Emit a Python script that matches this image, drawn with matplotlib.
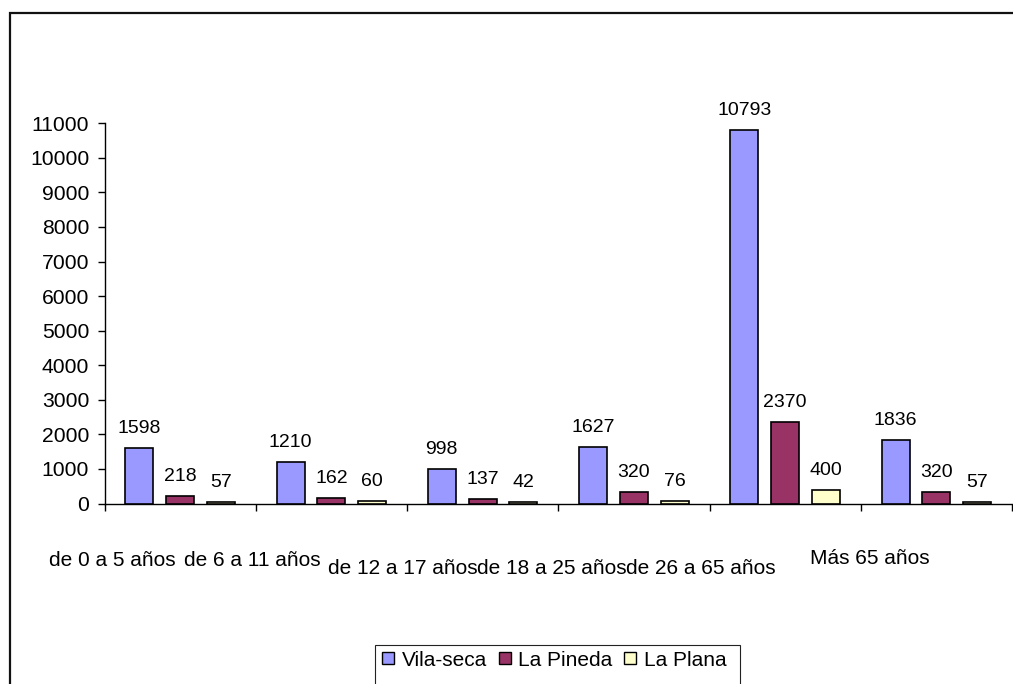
import matplotlib
matplotlib.use("Agg")
import matplotlib.pyplot as plt
import matplotlib.transforms as mtransforms
from matplotlib.patches import Rectangle
from matplotlib.lines import Line2D
import numpy as np

# Population by age group and district
categories = ["de 0 a 5 años", "de 6 a 11 años", "de 12 a 17 años",
              "de 18 a 25 años", "de 26 a 65 años", "Más 65 años"]
series_names = ["Vila-seca", "La Pineda", "La Plana"]
vila_seca = [1598, 1210, 998, 1627, 10793, 1836]
la_pineda = [218, 162, 137, 320, 2370, 320]
la_plana = [57, 60, 42, 76, 400, 57]
y_ticks = list(range(0, 11001, 1000))

series_values = [vila_seca, la_pineda, la_plana]
colors = ["#9999FF", "#993366", "#FFFFCC"]

plt.rcParams['font.family'] = ['Liberation Sans', 'DejaVu Sans']

W, H = 1013, 684
fig = plt.figure(figsize=(W / 100, H / 100), dpi=100)
fig.patch.set_facecolor("white")

# plot area in pixel geometry
x0, x1 = 104.5, 1012.0
y0, y1 = 503.5, 123.3
ax = fig.add_axes([x0 / W, (H - y0) / H, (x1 - x0) / W, (y0 - y1) / H])

n = len(categories)
centers = np.arange(n) + 0.5
offsets = [-0.27, 0.0, 0.27]
bar_w = 0.185

for vals, off, col in zip(series_values, offsets, colors):
    bars = ax.bar(centers + off, vals, width=bar_w, color=col,
                  edgecolor="black", linewidth=1.2, zorder=3)
    for b, v in zip(bars, vals):
        ax.annotate(str(v), (b.get_x() + b.get_width() / 2, v),
                    xytext=(0, 10.8), textcoords="offset points",
                    ha="center", va="baseline", fontsize=14, color="black")

ax.set_xlim(0, n)
ax.set_ylim(0, 11000)
ax.set_yticks(y_ticks)
ax.set_yticklabels([str(t) for t in y_ticks], fontsize=15.2)
ax.set_xticks(np.arange(n + 1))
ax.set_xticklabels([])
ax.tick_params(axis="y", direction="out", length=5, width=1, pad=6.0, colors="black")
ax.tick_params(axis="x", direction="out", length=5, width=1, colors="black")
for s in ("top", "right"):
    ax.spines[s].set_visible(False)
for s in ("left", "bottom"):
    ax.spines[s].set_linewidth(1)
    ax.spines[s].set_color("black")

# category names under the axis
label_shift = [0.05, -0.02, -0.03, -0.04, -0.06, 0.06]
label_row_px = [561, 561, 568, 568, 568, 558]
trans = mtransforms.blended_transform_factory(ax.transData, fig.transFigure)
for i, (name, dx, ypx) in enumerate(zip(categories, label_shift, label_row_px)):
    ax.text(i + dx, 1 - ypx / H, name, transform=trans, ha="center",
            va="center", fontsize=15, color="black", clip_on=False)

# chart area border
fig.patches.append(Rectangle((10 / W, -0.2), 2.0, (1 - 13.5 / H) + 0.2,
                             transform=fig.transFigure, fill=False,
                             edgecolor="#111111", linewidth=1.6))

# legend box
fig.patches.append(Rectangle((375 / W, -0.2), 365 / W, (1 - 645 / H) + 0.2,
                             transform=fig.transFigure, fill=False,
                             edgecolor="#222222", linewidth=0.8))
handles = [Line2D([], [], marker="s", linestyle="none", markersize=8.6,
                  markerfacecolor=c, markeredgecolor="black", markeredgewidth=1.0)
           for c in colors]
fig.legend(handles, series_names, loc="center left",
           bbox_to_anchor=(381 / W, 1 - 660 / H), ncol=3, frameon=False,
           fontsize=15.0, handlelength=0.7, handletextpad=0.3,
           columnspacing=0.5, borderpad=0, borderaxespad=0)

fig.savefig("out.png", dpi=100, facecolor="white")
